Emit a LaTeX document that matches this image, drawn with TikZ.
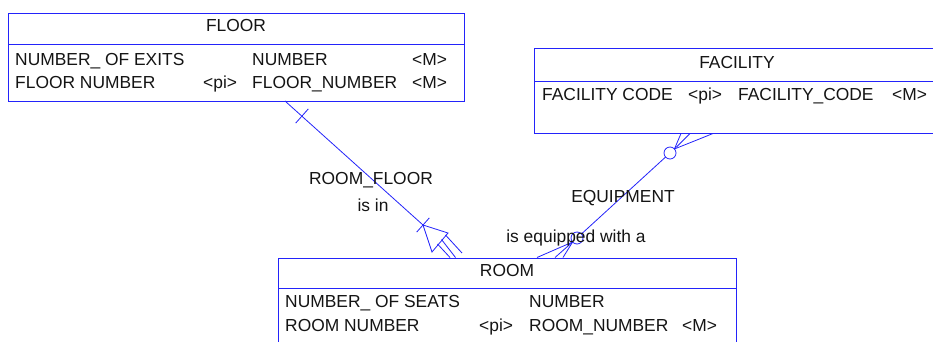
\documentclass[tikz,border=0pt]{standalone}
\usepackage{fontspec}
\setmainfont{Liberation Sans}
\definecolor{erblue}{RGB}{35,35,250}
\definecolor{ertext}{RGB}{20,20,20}
\begin{document}
\begin{tikzpicture}[x=1pt,y=-1pt,
  entity/.style={draw=erblue,line width=0.9pt,rectangle,anchor=north west,inner sep=0pt},
  lbl/.style={inner sep=0pt,anchor=base west,text=ertext,font=\fontsize{17.4}{20}\selectfont},
  ttl/.style={lbl,anchor=base},
  link/.style={draw=erblue,line width=0.8pt}]
\useasboundingbox (0,0) rectangle (933,341);
\clip (0,0) rectangle (933,341);

% ---------- entities ----------
\node[entity,minimum width=456pt,minimum height=88pt] (floor) at (8,13) {};
\draw[link] ([yshift=-31pt]floor.north west) -- ([yshift=-31pt]floor.north east);
\node[ttl] (floor-t) at (236,31) {FLOOR};
\node[lbl] (floor-a1) at (15,65.5) {NUMBER\_ OF EXITS};
\node[lbl] (floor-d1) at (252,65.5) {NUMBER};
\node[lbl] (floor-m1) at (412,65.5) {<M>};
\node[lbl] (floor-a2) at (15,88) {FLOOR NUMBER};
\node[lbl] (floor-p2) at (203,88) {<pi>};
\node[lbl] (floor-d2) at (252,88) {FLOOR\_NUMBER};
\node[lbl] (floor-m2) at (412,88) {<M>};

\node[entity,minimum width=406pt,minimum height=85pt] (facility) at (534,48) {};
\draw[link] ([yshift=-33pt]facility.north west) -- ([yshift=-33pt]facility.north east);
\node[ttl] (facility-t) at (737,68) {FACILITY};
\node[lbl] (facility-a1) at (542,100) {FACILITY CODE};
\node[lbl] (facility-p1) at (688,100) {<pi>};
\node[lbl] (facility-d1) at (738,100) {FACILITY\_CODE};
\node[lbl] (facility-m1) at (892,100) {<M>};

\node[entity,minimum width=458pt,minimum height=110pt] (room) at (278,257.5) {};
\draw[link] ([yshift=-31pt]room.north west) -- ([yshift=-31pt]room.north east);
\node[ttl] (room-t) at (507,276) {ROOM};
\node[lbl] (room-a1) at (285,307.7) {NUMBER\_ OF SEATS};
\node[lbl] (room-d1) at (529,307.7) {NUMBER};
\node[lbl] (room-a2) at (285,331.7) {ROOM NUMBER};
\node[lbl] (room-p2) at (479,331.7) {<pi>};
\node[lbl] (room-d2) at (529,331.7) {ROOM\_NUMBER};
\node[lbl] (room-m2) at (682,331.7) {<M>};

% ---------- ROOM_FLOOR (dependent, mandatory) ----------
\coordinate (rf-a) at (285,101);
\coordinate (rf-b) at (423,225);
\draw[link] (rf-a) -- (rf-b);
\draw[link] (295.7,123.1) -- (308.3,108.9);
\draw[link] (416.7,232.1) -- (429.3,217.9);
\draw[link] (rf-b) -- (448,233) -- (432,252) -- cycle;
\draw[link] (437.5,244) -- (450,257.5);
\draw[link] (441.5,239.5) -- (455.5,257.5);
\draw[link] (445.5,235) -- (462,253);
\node[ttl] (rf-name) at (371,184) {ROOM\_FLOOR};
\node[ttl] (rf-role) at (373,211.7) {is in};

% ---------- EQUIPMENT (many-to-many, optional) ----------
\coordinate (eq-c1) at (577,238);
\coordinate (eq-c2) at (670,153);
\coordinate (eq-f1) at (572.6,242);
\coordinate (eq-f2) at (674.4,149);
\draw[link] (581.4,234) -- (665.6,157);
\draw[link] (eq-c1) circle[radius=6pt];
\draw[link] (eq-c2) circle[radius=6pt];
\foreach \xx in {537,555,563} \draw[link] (eq-f1) -- (\xx,257.5);
\foreach \xx in {681,690,713} \draw[link] (eq-f2) -- (\xx,133.5);
\node[ttl] (eq-name) at (623,202) {EQUIPMENT};
\node[ttl] (eq-role) at (576,242.5) {is equipped with a};
\end{tikzpicture}
\end{document}
